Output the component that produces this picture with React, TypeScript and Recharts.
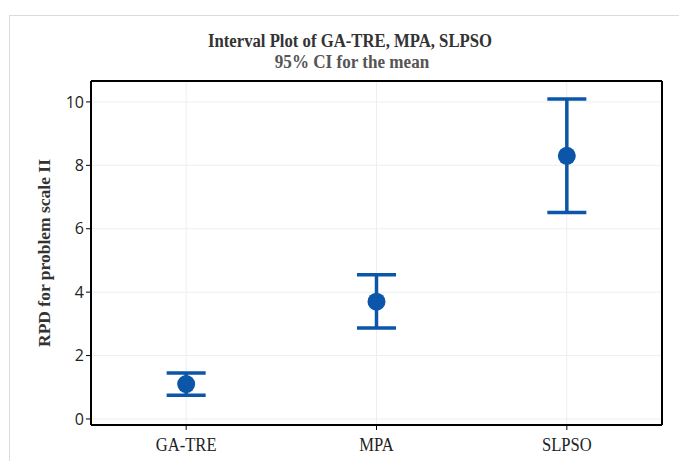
import React from 'react';
import {
  ComposedChart,
  Scatter,
  ErrorBar,
  XAxis,
  YAxis,
  CartesianGrid,
} from 'recharts';

// Algorithms compared
const categories = ['GA-TRE', 'MPA', 'SLPSO'];
// Mean RPD and 95% confidence interval bounds
const means = [1.1, 3.7, 8.3];
const lowerCI = [0.75, 2.87, 6.51];
const upperCI = [1.45, 4.55, 10.09];
// Y axis ticks
const yTicks = [0, 2, 4, 6, 8, 10];

const data = categories.map((name, i) => ({
  name,
  mean: means[i],
  ci: [means[i] - lowerCI[i], upperCI[i] - means[i]],
}));

const BLUE = '#0B56A8';
const SERIF = '"Liberation Serif", "Times New Roman", serif';
const Y_DOMAIN: [number, number] = [-0.19, 10.66];

const Dot = (props: any) => {
  const { cx, cy } = props;
  if (cx == null || cy == null) return null;
  return <circle cx={cx} cy={cy} r={9} fill={BLUE} />;
};

// Narrow serif category label
const CategoryTick = (props: any) => {
  const { x, y, payload } = props;
  return (
    <g transform={`translate(${x},${y})`}>
      <text
        transform="translate(0,19) scale(0.85,1)"
        textAnchor="middle"
        fontFamily={SERIF}
        fontSize={19.5}
        fill="#222"
      >
        {payload.value}
      </text>
    </g>
  );
};

export default function App() {
  return (
    <div style={{ position: 'absolute', left: 0, top: 0, width: 679, height: 461, background: '#fff' }}>
      <div
        style={{
          position: 'absolute',
          left: 9,
          top: 15,
          width: 680,
          height: 460,
          borderTop: '1px solid #dcdcdc',
          borderLeft: '1px solid #dcdcdc',
        }}
      />
      <div style={{ position: 'absolute', left: 0, top: 0 }}>
        <ComposedChart
          width={679}
          height={461}
          data={data}
          margin={{ top: 80, right: 16, bottom: 6, left: 31 }}
        >
          <CartesianGrid stroke="#eeeeee" strokeWidth={1} />
          <XAxis
            dataKey="name"
            type="category"
            scale="band"
            axisLine={{ stroke: '#000', strokeWidth: 2 }}
            tickLine={{ stroke: '#000' }}
            tickSize={5}
            height={30}
            tick={<CategoryTick />}
          />
          <XAxis
            xAxisId="top"
            orientation="top"
            dataKey="name"
            type="category"
            scale="band"
            height={1}
            tick={false}
            tickLine={false}
            axisLine={{ stroke: '#000', strokeWidth: 2 }}
          />
          <YAxis
            type="number"
            domain={Y_DOMAIN}
            ticks={yTicks}
            allowDataOverflow
            width={60}
            axisLine={{ stroke: '#000', strokeWidth: 2 }}
            tickLine={{ stroke: '#000' }}
            tickSize={5}
            tickMargin={2}
            tick={{ fill: '#222', fontSize: 16, fontFamily: '"Open Sans", "Noto Sans", sans-serif' }}
          />
          <YAxis
            yAxisId="right"
            orientation="right"
            type="number"
            domain={Y_DOMAIN}
            allowDataOverflow
            width={1}
            tick={false}
            tickLine={false}
            axisLine={{ stroke: '#000', strokeWidth: 2 }}
          />
          <Scatter dataKey="mean" fill={BLUE} shape={<Dot />} isAnimationActive={false}>
            <ErrorBar
              dataKey="ci"
              direction="y"
              width={19.5}
              stroke={BLUE}
              strokeWidth={3.5}
              isAnimationActive={false}
            />
          </Scatter>
        </ComposedChart>
      </div>
      <svg
        width={679}
        height={461}
        style={{ position: 'absolute', left: 0, top: 0, pointerEvents: 'none' }}
      >
        <text
          transform="translate(350,47) scale(0.88,1)"
          textAnchor="middle"
          fontFamily={SERIF}
          fontWeight="bold"
          fontSize={19}
          fill="#333"
        >
          Interval Plot of GA-TRE, MPA, SLPSO
        </text>
        <text
          transform="translate(352,68) scale(0.9,1)"
          textAnchor="middle"
          fontFamily={SERIF}
          fontWeight="bold"
          fontSize={19}
          fill="#555"
        >
          95% CI for the mean
        </text>
        <text
          transform="translate(50, 253) rotate(-90)"
          textAnchor="middle"
          fontFamily={SERIF}
          fontWeight="bold"
          fontSize={17.5}
          fill="#333"
        >
          RPD for problem scale II
        </text>
      </svg>
    </div>
  );
}
